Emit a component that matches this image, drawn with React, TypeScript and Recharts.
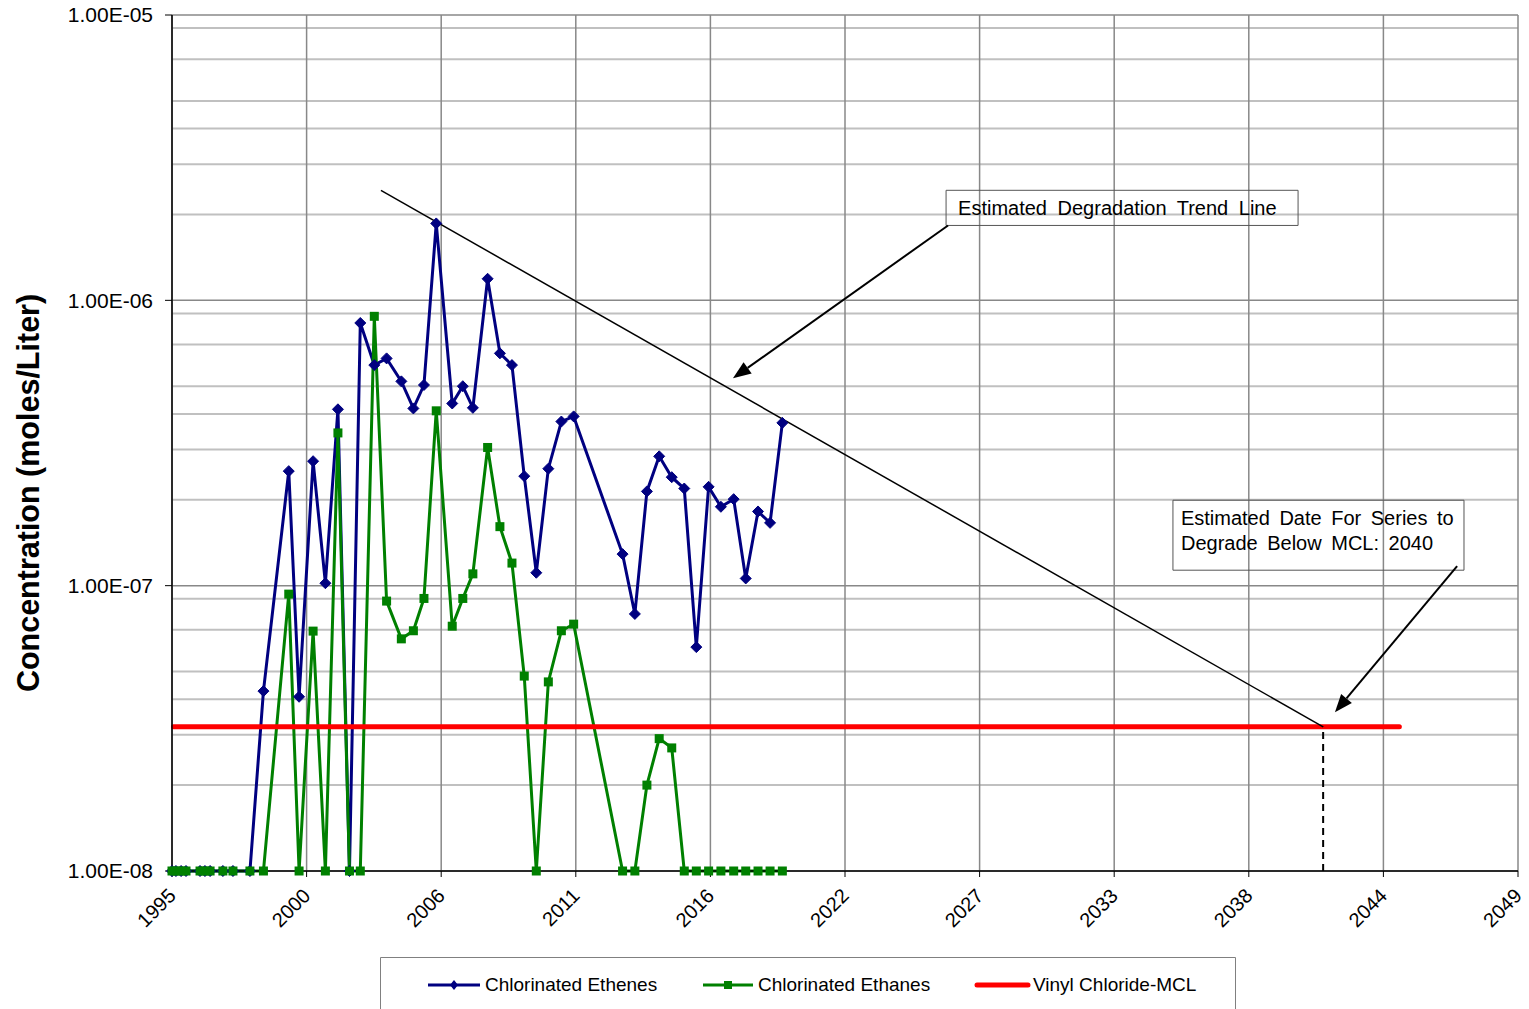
import React from 'react';
import {
  LineChart,
  Line,
  XAxis,
  YAxis,
  CartesianGrid,
  ReferenceLine,
  ReferenceArea,
  Legend,
} from 'recharts';

const FONT = '"Liberation Sans", Arial, Helvetica, sans-serif';

// sampling dates (decimal years), roughly semi-annual
const SAMPLE_YEARS = [
  1995.07, 1995.23, 1995.44, 1995.64, 1996.21, 1996.41, 1996.62, 1997.14, 1997.55, 1998.24,
  1998.79, 1999.82, 2000.24, 2000.81, 2001.31, 2001.82, 2002.29, 2002.73, 2003.3, 2003.8,
  2004.4, 2004.89, 2005.32, 2005.82, 2006.47, 2006.9, 2007.31, 2007.91, 2008.41, 2008.9,
  2009.4, 2009.89, 2010.38, 2010.91, 2011.41, 2013.4, 2013.9, 2014.39, 2014.89, 2015.4,
  2015.91, 2016.4, 2016.9, 2017.4, 2017.92, 2018.41, 2018.91, 2019.4, 2019.9,
];

// moles/L, non-detects plotted at 1e-8
const ETHENES = [
  1e-8, 1e-8, 1e-8, 1e-8, 1e-8, 1e-8, 1e-8, 1e-8, 1e-8, 1e-8,
  4.27e-8, 2.52e-7, 4.08e-8, 2.73e-7, 1.02e-7, 4.15e-7, 1e-8, 8.33e-7, 5.93e-7, 6.26e-7,
  5.2e-7, 4.18e-7, 5.05e-7, 1.86e-6, 4.35e-7, 5.0e-7, 4.2e-7, 1.19e-6, 6.52e-7, 5.93e-7,
  2.42e-7, 1.11e-7, 2.57e-7, 3.76e-7, 3.92e-7, 1.29e-7, 7.96e-8, 2.14e-7, 2.84e-7, 2.4e-7,
  2.19e-7, 6.09e-8, 2.22e-7, 1.89e-7, 2.01e-7, 1.06e-7, 1.82e-7, 1.66e-7, 3.72e-7,
];

const ETHANES = [
  1e-8, 1e-8, 1e-8, 1e-8, 1e-8, 1e-8, 1e-8, 1e-8, 1e-8, 1e-8,
  1e-8, 9.34e-8, 1e-8, 6.93e-8, 1e-8, 3.43e-7, 1e-8, 1e-8, 8.79e-7, 8.83e-8,
  6.51e-8, 6.95e-8, 9.02e-8, 4.1e-7, 7.21e-8, 9.02e-8, 1.1e-7, 3.05e-7, 1.61e-7, 1.2e-7,
  4.82e-8, 1e-8, 4.6e-8, 6.95e-8, 7.33e-8, 1e-8, 1e-8, 2.0e-8, 2.91e-8, 2.7e-8,
  1e-8, 1e-8, 1e-8, 1e-8, 1e-8, 1e-8, 1e-8, 1e-8, 1e-8,
];

const VC_MCL = 3.2e-8;
const MCL_YEARS = [1995.13, 2045.0];

// hand-fitted degradation trend, hits the MCL around 2041-2042
const TREND_YEARS = [2003.57, 2041.9];
const TREND_VALUES = [2.43e-6, VC_MCL];

// Excel-style date axis: 2000-day major unit
const AXIS_START = 1995.07;
const AXIS_STEP = 2000 / 365.25;
const YEAR_LABELS = ['1995', '2000', '2006', '2011', '2016', '2022', '2027', '2033', '2038', '2044', '2049'];
const Y_TICKS = [1e-8, 1e-7, 1e-6, 1e-5];

const X_TICKS = YEAR_LABELS.map((_, i) => AXIS_START + i * AXIS_STEP);
const X_DOMAIN = [X_TICKS[0], X_TICKS[X_TICKS.length - 1]];
const MINOR_Y = Y_TICKS.slice(0, -1).flatMap((d) => [2, 3, 4, 5, 6, 7, 8, 9].map((m) => d * m));

const ethenesData = SAMPLE_YEARS.map((x, i) => ({ x, y: ETHENES[i] }));
const ethanesData = SAMPLE_YEARS.map((x, i) => ({ x, y: ETHANES[i] }));
const mclData = MCL_YEARS.map((x) => ({ x, y: VC_MCL }));
const trendData = TREND_YEARS.map((x, i) => ({ x, y: TREND_VALUES[i] }));

const sci = (v: number) => {
  const e = Math.floor(Math.log10(v) + 1e-9);
  const m = (v / Math.pow(10, e)).toFixed(2);
  return `${m}E${e < 0 ? '-' : '+'}${String(Math.abs(e)).padStart(2, '0')}`;
};

const Diamond = (props: any) => {
  const { cx, cy } = props;
  if (cx == null || cy == null) return null;
  const r = 5.5;
  return (
    <polygon
      points={`${cx},${cy - r} ${cx + r},${cy} ${cx},${cy + r} ${cx - r},${cy}`}
      fill="#000080"
      stroke="#000080"
    />
  );
};

const Square = (props: any) => {
  const { cx, cy } = props;
  if (cx == null || cy == null) return null;
  return <rect x={cx - 4.5} y={cy - 4.5} width={9} height={9} fill="#008000" />;
};

const YearTick = (props: any) => {
  const { x, y, index } = props;
  const px = x + 5;
  const py = y + 18;
  return (
    <text
      x={px}
      y={py}
      transform={`rotate(-45 ${px} ${py})`}
      textAnchor="end"
      fontSize={20}
      fontFamily={FONT}
      fill="#000"
    >
      {YEAR_LABELS[index]}
    </text>
  );
};

const AxisTitle = (props: any) => {
  const { viewBox } = props;
  const cy = viewBox.y + viewBox.height / 2 + 50;
  return (
    <text
      x={39}
      y={cy}
      transform={`rotate(-90 39 ${cy})`}
      textAnchor="middle"
      fontSize={30.5}
      fontWeight="bold"
      fontFamily={FONT}
      fill="#000"
    >
      Concentration (moles/Liter)
    </text>
  );
};

const Arrow = (props: any) => {
  const { x1, y1, x2, y2 } = props;
  if ([x1, y1, x2, y2].some((v) => v == null)) return null;
  const a = Math.atan2(y2 - y1, x2 - x1);
  const len = 18;
  const half = 7;
  const bx = x2 - len * Math.cos(a);
  const by = y2 - len * Math.sin(a);
  const nx = -Math.sin(a) * half;
  const ny = Math.cos(a) * half;
  return (
    <g>
      <line x1={x1} y1={y1} x2={bx} y2={by} stroke="#000" strokeWidth={2} />
      <polygon points={`${x2},${y2} ${bx + nx},${by + ny} ${bx - nx},${by - ny}`} fill="#000" />
    </g>
  );
};

const boxText = (lines: string[], pad: number, spacing: number) => (props: any) => {
  const { viewBox } = props;
  return (
    <text fontSize={20} fontFamily={FONT} fill="#000" style={{ wordSpacing: spacing }}>
      {lines.map((t, i) => (
        <tspan key={i} x={viewBox.x + pad} y={viewBox.y + 25 + i * 25}>
          {t}
        </tspan>
      ))}
    </text>
  );
};

const LEGEND_ITEMS = [
  { name: 'Chlorinated Ethenes', color: '#000080', mark: 'diamond', x0: 48, x1: 100 },
  { name: 'Chlorinated Ethanes', color: '#008000', mark: 'square', x0: 323, x1: 373 },
  { name: 'Vinyl Chloride-MCL', color: '#ff0000', mark: 'none', x0: 597, x1: 648 },
];

const LegendBox = () => (
  <svg width={856} height={52} style={{ display: 'block' }}>
    <path d="M0.5,52 L0.5,0.5 L855.5,0.5 L855.5,52" fill="none" stroke="#808080" strokeWidth={1} />
    {LEGEND_ITEMS.map((it) => {
      const cy = 28;
      const mid = (it.x0 + it.x1) / 2;
      return (
        <g key={it.name}>
          <line
            x1={it.x0}
            x2={it.x1}
            y1={cy}
            y2={cy}
            stroke={it.color}
            strokeWidth={it.mark === 'none' ? 5 : 3}
            strokeLinecap={it.mark === 'none' ? 'round' : 'butt'}
          />
          {it.mark === 'diamond' && (
            <polygon points={`${mid},${cy - 5} ${mid + 4},${cy} ${mid},${cy + 5} ${mid - 4},${cy}`} fill={it.color} />
          )}
          {it.mark === 'square' && <rect x={mid - 4} y={cy - 4} width={8} height={8} fill={it.color} />}
          <text x={it.x1 + 5} y={cy + 6} fontSize={19} fontFamily={FONT} fill="#000">
            {it.name}
          </text>
        </g>
      );
    })}
  </svg>
);

export default function App() {
  return (
    <div style={{ position: 'absolute', left: 0, top: 0, background: '#fff', fontFamily: FONT }}>
      <LineChart width={1529} height={1009} margin={{ top: 15, right: 11, left: 0, bottom: 0 }}>
        {/* minor log gridlines first, major grid on top */}
        <CartesianGrid vertical={false} horizontalValues={MINOR_Y} stroke="#c0c0c0" strokeWidth={2} />
        <CartesianGrid stroke="#888" strokeWidth={1.5} />
        <XAxis
          type="number"
          dataKey="x"
          domain={X_DOMAIN}
          ticks={X_TICKS}
          interval={0}
          height={86}
          tick={<YearTick />}
          tickSize={6}
          axisLine={{ stroke: '#000', strokeWidth: 1.5 }}
          tickLine={{ stroke: '#000' }}
        />
        <YAxis
          scale="log"
          type="number"
          domain={[1e-8, 1e-5]}
          ticks={Y_TICKS}
          width={172}
          tickFormatter={sci}
          tick={{ fontSize: 21, fill: '#000', fontFamily: FONT }}
          tickSize={7}
          tickMargin={12}
          axisLine={{ stroke: '#000', strokeWidth: 1.5 }}
          tickLine={{ stroke: '#000' }}
          label={AxisTitle}
        />
        <Line
          data={ethenesData}
          dataKey="y"
          stroke="#000080"
          strokeWidth={3}
          dot={<Diamond />}
          activeDot={false}
          isAnimationActive={false}
        />
        <Line
          data={ethanesData}
          dataKey="y"
          stroke="#008000"
          strokeWidth={3}
          dot={<Square />}
          activeDot={false}
          isAnimationActive={false}
        />
        <Line
          data={mclData}
          dataKey="y"
          stroke="#ff0000"
          strokeWidth={5}
          strokeLinecap="round"
          dot={false}
          activeDot={false}
          isAnimationActive={false}
        />
        <Line
          data={trendData}
          dataKey="y"
          stroke="#000"
          strokeWidth={1.5}
          dot={false}
          activeDot={false}
          isAnimationActive={false}
        />
        <ReferenceLine
          segment={[
            { x: TREND_YEARS[1], y: 1e-8 },
            { x: TREND_YEARS[1], y: VC_MCL },
          ]}
          stroke="#000"
          strokeWidth={2}
          strokeDasharray="7 5"
        />
        <ReferenceArea
          x1={2026.56}
          x2={2040.88}
          y1={1.83e-6}
          y2={2.43e-6}
          fill="none"
          stroke="#555"
          strokeWidth={1}
          label={boxText(['Estimated Degradation Trend Line'], 12, 5)}
        />
        <ReferenceArea
          x1={2035.79}
          x2={2047.63}
          y1={1.133e-7}
          y2={1.993e-7}
          fill="none"
          stroke="#555"
          strokeWidth={1}
          label={boxText(['Estimated Date For Series to', 'Degrade Below MCL: 2040'], 8, 4)}
        />
        <ReferenceLine
          segment={[
            { x: 2026.64, y: 1.83e-6 },
            { x: 2017.89, y: 5.33e-7 },
          ]}
          shape={<Arrow />}
        />
        <ReferenceLine
          segment={[
            { x: 2047.35, y: 1.17e-7 },
            { x: 2042.38, y: 3.6e-8 },
          ]}
          shape={<Arrow />}
        />
        <Legend
          verticalAlign="bottom"
          align="left"
          wrapperStyle={{ left: 380, bottom: 0, width: 856, height: 52 }}
          content={() => <LegendBox />}
        />
      </LineChart>
    </div>
  );
}
